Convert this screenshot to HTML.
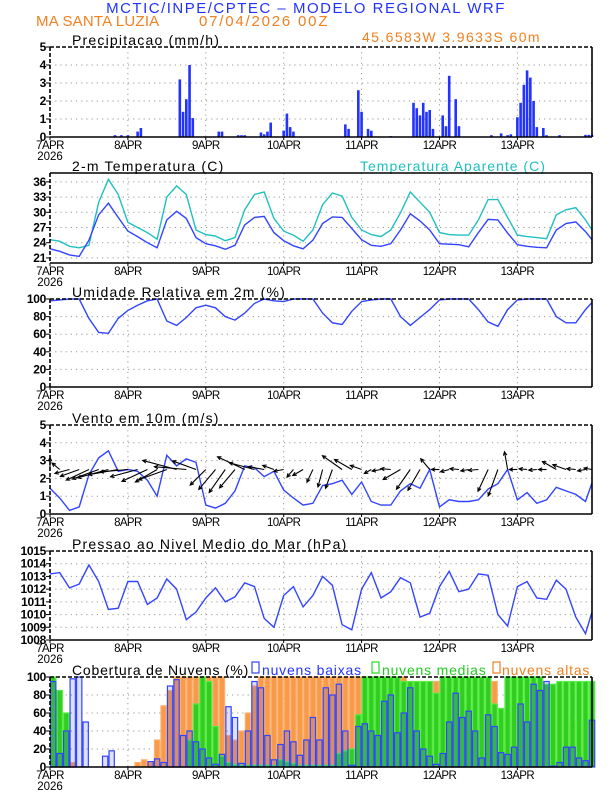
<!DOCTYPE html>
<html><head><meta charset="utf-8"><style>
body{margin:0;background:#fff;}
svg{display:block;font-family:"Liberation Sans",sans-serif;}
.t{letter-spacing:1.2px;}
.l{letter-spacing:0.8px;}
</style></head><body>
<svg id="c" width="612" height="792" viewBox="0 0 612 792">
<text x="306" y="13" text-anchor="middle" fill="#2233ff" font-size="15" letter-spacing="1.5">MCTIC/INPE/CPTEC – MODELO REGIONAL WRF</text>
<text x="36" y="26" fill="#f08020" font-size="15" letter-spacing="0.2">MA SANTA LUZIA</text>
<text x="199" y="26" fill="#f08020" font-size="15" letter-spacing="1.8">07/04/2026 00Z</text>
<text x="362" y="42" fill="#f08020" font-size="14" letter-spacing="1.4">45.6583W 3.9633S 60m</text>
<text class="t" x="72" y="45" font-size="14">Precipitacao (mm/h)</text>
<text class="t" x="72" y="171" font-size="14">2-m Temperatura (C)</text>
<text x="360" y="171" font-size="14" fill="#20c0c0" letter-spacing="1">Temperatura Aparente (C)</text>
<text class="t" x="72" y="297" font-size="14">Umidade Relativa em 2m (%)</text>
<text class="t" x="72" y="423" font-size="14">Vento em 10m (m/s)</text>
<text class="t" x="72" y="549" font-size="14">Pressao ao Nivel Medio do Mar (hPa)</text>
<text class="l" x="72" y="675" font-size="14">Cobertura de Nuvens (%)</text>
<g>
<rect x="252" y="662" width="7" height="11" fill="none" stroke="#3344ff" stroke-width="1.2"/>
<text class="l" x="262" y="675" font-size="14" fill="#2233ff">nuvens baixas</text>
<rect x="372" y="662" width="7" height="11" fill="none" stroke="#22dd22" stroke-width="1.2"/>
<text class="l" x="382" y="675" font-size="14" fill="#22cc22">nuvens medias</text>
<rect x="493" y="662" width="7" height="11" fill="none" stroke="#f08020" stroke-width="1.2"/>
<text class="l" x="502" y="675" font-size="14" fill="#f08020">nuvens altas</text>
</g>
</svg>
<script>
const dayLabels=["7APR","8APR","9APR","10APR","11APR","12APR","13APR"];
const hours=[0,3,6,9,12,15,18,21,24,27,30,33,36,39,42,45,48,51,54,57,60,63,66,69,72,75,78,81,84,87,90,93,96,99,102,105,108,111,114,117,120,123,126,129,132,135,138,141,144,147,150,153,156,159,162,165,167];
const temp=[22.8,22.3,21.6,21.3,24.5,29.5,31.8,29.0, 26.3,25.2,24.0,23.0,28.5,30.2,28.8,25.0, 23.8,23.4,22.7,23.5,27.5,29.0,29.2,26.0, 24.4,23.4,22.8,24.5,27.8,29.1,29.0,26.8, 24.6,23.5,23.3,23.8,26.5,29.7,28.3,26.5, 23.8,23.7,23.6,23.2,26.0,28.6,28.5,25.9, 23.6,23.3,23.1,23.0,26.5,27.8,28.1,26.2,24.6];
const tempAp=[24.6,24.3,23.3,23.0,23.5,32.0,36.5,33.5, 28.0,27.0,26.0,24.7,33.0,35.2,33.5,26.5, 25.6,25.3,24.4,25.0,30.5,33.5,34.0,28.8, 26.3,25.5,24.3,26.5,31.5,33.8,33.2,29.0, 26.5,25.6,25.2,26.5,29.9,34.0,32.0,30.0, 26.0,25.6,25.5,25.5,28.5,32.5,32.5,29.0, 25.5,25.2,25.0,24.8,29.5,30.5,30.9,28.5,26.5];
const rh=[98,99,100,100,78,62,61,78, 87,93,98,100,75,70,79,90, 93,90,80,76,84,95,100,98, 97,100,100,100,84,73,71,86, 97,99,100,100,80,70,79,88, 99,100,100,100,88,74,69,88, 99,100,100,100,80,73,73,88,96];
const windSpeed=[1.45,0.9,0.2,0.4,2.2,3.15,3.55,2.4, 2.5,2.4,1.9,1.0,3.3,2.7,3.1,2.9, 0.5,0.33,0.6,1.3,2.7,2.6,2.1,2.4, 1.35,0.9,0.5,0.6,1.6,1.7,1.9,1.1, 1.8,0.7,0.5,0.5,1.3,1.7,1.45,2.5, 0.4,0.8,0.7,0.7,0.8,1.4,1.7,2.5, 0.8,1.2,0.6,0.8,1.5,1.3,1.1,0.7,1.75];
const windDir=[180,130,75,70,65,70,75,80, 85,75,65,60,70,105,95,110, 45,40,35,40,115,105,100,110, 80,40,60,25,15,20,125,120, 110,60,80,95,60,35,30,140, 90,75,95,80,85,25,20,170, 90,95,85,90,120,110,95,80,100];
const vecMag=[1.2,1.0,1.5,2.0,2.5,2.8,3.2,3.0, 2.8,2.8,2.8,2.5,3.0,3.5,3.2,2.5, 2.2,2.6,2.8,2.4,3.0,2.6,1.6,1.2, 1.0,1.0,1.2,1.4,1.8,2.0,2.4,2.0, 1.2,0.8,0.9,1.0,2.0,2.4,2.4,1.4, 0.8,0.9,0.9,0.8,1.0,2.4,2.8,1.8, 0.8,0.8,0.8,0.8,1.6,1.4,0.9,0.8,0.8];
const pressure=[1013.2,1013.3,1012.1,1012.4,1013.9,1012.6,1010.4,1010.5, 1012.6,1012.6,1010.8,1011.3,1012.8,1012.0,1009.6,1010.2, 1011.3,1012.1,1011.0,1011.4,1012.5,1012.2,1009.7,1009.0, 1011.5,1012.2,1010.6,1011.5,1013.0,1012.3,1009.2,1008.8, 1012.0,1013.3,1011.3,1011.8,1012.9,1012.5,1009.8,1010.1, 1012.2,1013.4,1011.8,1012.0,1013.2,1013.1,1010.0,1009.1, 1012.2,1012.6,1011.3,1011.2,1012.7,1012.0,1009.8,1008.5,1010.2];
const precipHours=[20,22,24,27,28,40,41,42,43,44,52,53,58,59,60,65,66,67,68,72,73,74,75,91,92,95,96,98,99,105,112,113,114,115,116,117,118,121,122,123,125,126,136,139,141,142,144,145,146,147,148,149,150,152,153,157,165,166,167];
const precipVals=[0.1,0.1,0.1,0.3,0.5,3.2,1.4,2.1,4.0,1.05,0.3,0.3,0.1,0.1,0.1,0.25,0.15,0.3,0.8,0.35,1.3,0.55,0.3,0.7,0.45,2.6,1.4,0.45,0.35,0.05,1.9,1.6,1.2,1.9,1.4,1.5,0.45,1.2,0.6,3.4,2.1,0.6,0.1,0.2,0.1,0.15,1.1,1.9,2.9,3.7,3.3,2.0,0.55,0.5,0.1,0.1,0.12,0.12,0.12];
const cloudLow=[95,15,40,98,100,50,0,0,12,18,0,0, 0,0,0,6,9,5,90,97,35,40,28,20, 10,3,14,67,55,4,40,95,88,35,8,25, 40,28,13,30,55,30,88,80,92,40,2,45, 48,40,35,73,80,38,60,88,40,20,12,3, 15,50,82,55,62,40,10,58,45,16,14,22, 70,50,92,85,95,1,5,22,22,10,7,52];
const cloudMid=[100,85,60,0,0,0,0,0,0,0,0,0, 0,0,0,0,0,0,0,0,0,30,70,100, 95,45,12,5,3,2,2,2,2,2,2,8, 6,4,2,2,2,2,2,2,15,18,20,58, 100,100,100,100,100,100,95,95,95,95,95,82, 100,100,100,100,100,100,100,100,70,65,100,100, 100,100,100,100,92,92,95,95,95,95,95,95];
const cloudHigh=[10,60,30,5,0,0,0,0,0,0,0,0, 0,5,8,5,30,68,85,100,100,100,100,100, 100,100,100,35,30,40,60,90,100,100,100,100, 100,100,100,100,100,100,100,100,100,100,100,100, 100,100,100,100,100,100,100,95,95,95,95,95, 90,50,50,50,50,50,50,98,95,60,60,60, 60,60,60,60,85,85,85,50,50,50,50,50];

const NS="http://www.w3.org/2000/svg";
const svg=document.getElementById('c');
const X0=50,X1=592,HMAX=167;
function xs(h){return X0+(X1-X0)*h/HMAX;}
function mk(tag,attrs,parent){const e=document.createElementNS(NS,tag);for(const k in attrs)e.setAttribute(k,attrs[k]);(parent||svg).appendChild(e);return e;}
function ysF(top,bot,d0,d1){return v=>bot-(v-d0)/(d1-d0)*(bot-top);}

const panels=[
 {name:'precip',top:47,bot:137,d0:0,d1:5,ticks:[0,1,2,3,4,5],dashTop:true},
 {name:'temp',top:173,bot:263,d0:20,d1:37.75,ticks:[21,24,27,30,33,36],dashTop:false},
 {name:'rh',top:299,bot:387,d0:0,d1:100,ticks:[0,20,40,60,80,100],dashTop:true},
 {name:'wind',top:425,bot:514,d0:0,d1:5,ticks:[0,1,2,3,4,5],dashTop:true},
 {name:'pressure',top:551,bot:640,d0:1008,d1:1015,ticks:[1008,1009,1010,1011,1012,1013,1014,1015],dashTop:true},
 {name:'cloud',top:677,bot:767,d0:0,d1:100,ticks:[0,20,40,60,80,100],dashTop:true}
];
const Y={};
panels.forEach(p=>{
 const y=ysF(p.top,p.bot,p.d0,p.d1);Y[p.name]=y;
 const g=mk('g',{});
 
 
 p.g=g;
 const grid=mk('g',{stroke:'#999','stroke-width':1,'stroke-dasharray':'1.2,4'},g);
 
 
 p.ticks.forEach(t=>{ if(t!==p.d0&&t!==p.d1) mk('line',{x1:X0,x2:X1,y1:y(t),y2:y(t)},grid);});
 for(let d=1;d<7;d++){mk('line',{x1:xs(d*24),x2:xs(d*24),y1:p.top,y2:p.bot},grid);}
 p.ticks.forEach(t=>{
  const tx=mk('text',{x:46,y:y(t)+4,'text-anchor':'end','font-size':12,'font-weight':'bold','letter-spacing':'-0.3'},g);
  
  
  tx.textContent=t;
  mk('line',{x1:X0-4,x2:X0,y1:y(t),y2:y(t),stroke:'#000'},g);
 });
 dayLabels.forEach((l,d)=>{
  const tx=mk('text',{x:xs(d*24),y:p.bot+12,'text-anchor':'middle','font-size':11.5,'letter-spacing':'-0.6'},g);
  
  
  tx.textContent=l;
  mk('line',{x1:xs(d*24),x2:xs(d*24),y1:p.bot,y2:p.bot+3,stroke:'#000'},g);
 });
 const yr=mk('text',{x:X0,y:p.bot+23,'text-anchor':'middle','font-size':11.5},g);
 
 
 yr.textContent='2026';
});

function line(arrX,arrY,col,parent,name){
 const d=arrX.map((h,i)=>(i?'L':'M')+xs(h).toFixed(1)+','+arrY[i].toFixed(1)).join('');
 const p=mk('path',{d:d,fill:'none',stroke:col,'stroke-width':1.4},parent);
 
 
}
const P=panels;
precipHours.forEach((h,i)=>{
 const r=mk('rect',{x:xs(h)-1.3,y:Y.precip(precipVals[i]),width:2.6,height:P[0].bot-Y.precip(precipVals[i]),fill:'#2233ff'},P[0].g);
 
 
});
line(hours,tempAp.map(Y.temp),'#20c0c0',P[1].g,'apparent-temp-line');
line(hours,temp.map(Y.temp),'#3344ff',P[1].g,'temp-line');
line(hours,rh.map(Y.rh),'#3344ff',P[2].g,'rh-line');
line(hours,windSpeed.map(Y.wind),'#3344ff',P[3].g,'wind-speed-line');
const baseY=Y.wind(2.5);
hours.forEach((h,i)=>{
 const a=windDir[i]*Math.PI/180,L=vecMag[i]*10;
 const x0=xs(h),x1=x0-Math.sin(a)*L,y1=baseY+Math.cos(a)*L;
 const ang=Math.atan2(y1-baseY,x1-x0);
 const hl=4;
 const g=mk('g',{stroke:'#000','stroke-width':1.1,fill:'none'},P[3].g);
 
 
 mk('line',{x1:x0,y1:baseY,x2:x1,y2:y1},g);
 mk('path',{d:`M${x1-hl*Math.cos(ang-0.45)},${y1-hl*Math.sin(ang-0.45)}L${x1},${y1}L${x1-hl*Math.cos(ang+0.45)},${y1-hl*Math.sin(ang+0.45)}`},g);
});
line(hours,pressure.map(Y.pressure),'#3344ff',P[4].g,'pressure-line');
const bw=(X1-X0)*2/HMAX;
function cloudBars(arr,fill,stroke,name,fo){
 arr.forEach((v,k)=>{
  if(v<=0)return;
  const x=xs(2*k)+0.6,y=Y.cloud(v);
  const r=mk('rect',{x:x,y:y,width:bw-1.2,height:P[5].bot-y,fill:fill,'fill-opacity':fo,stroke:stroke,'stroke-width':1.2},P[5].g);
  
  
 });
}
cloudBars(cloudHigh,'#f79a4a','#ffb070','cloud-high-bar',1);
cloudBars(cloudMid,'#33cc22','#55ee44','cloud-mid-bar',1);
cloudBars(cloudLow,'#4455ff','#3344ff','cloud-low-bar',0.18);
panels.forEach(p=>{
 const g=mk('g',{fill:'none',stroke:'#000','stroke-width':1.6},p.g);
 
 
 mk('line',{x1:X1,y1:p.top,x2:X1,y2:p.bot},g);
 mk('line',{x1:X0,y1:p.bot,x2:X1,y2:p.bot},g);
 const da=p.dashTop?'4,2':'none';
 mk('line',{x1:X0,y1:p.top,x2:X1,y2:p.top,'stroke-dasharray':da},g);
 mk('line',{x1:X0,y1:p.top,x2:X0,y2:p.bot,'stroke-dasharray':'4,2'},g);
});
</script>
</body></html>
